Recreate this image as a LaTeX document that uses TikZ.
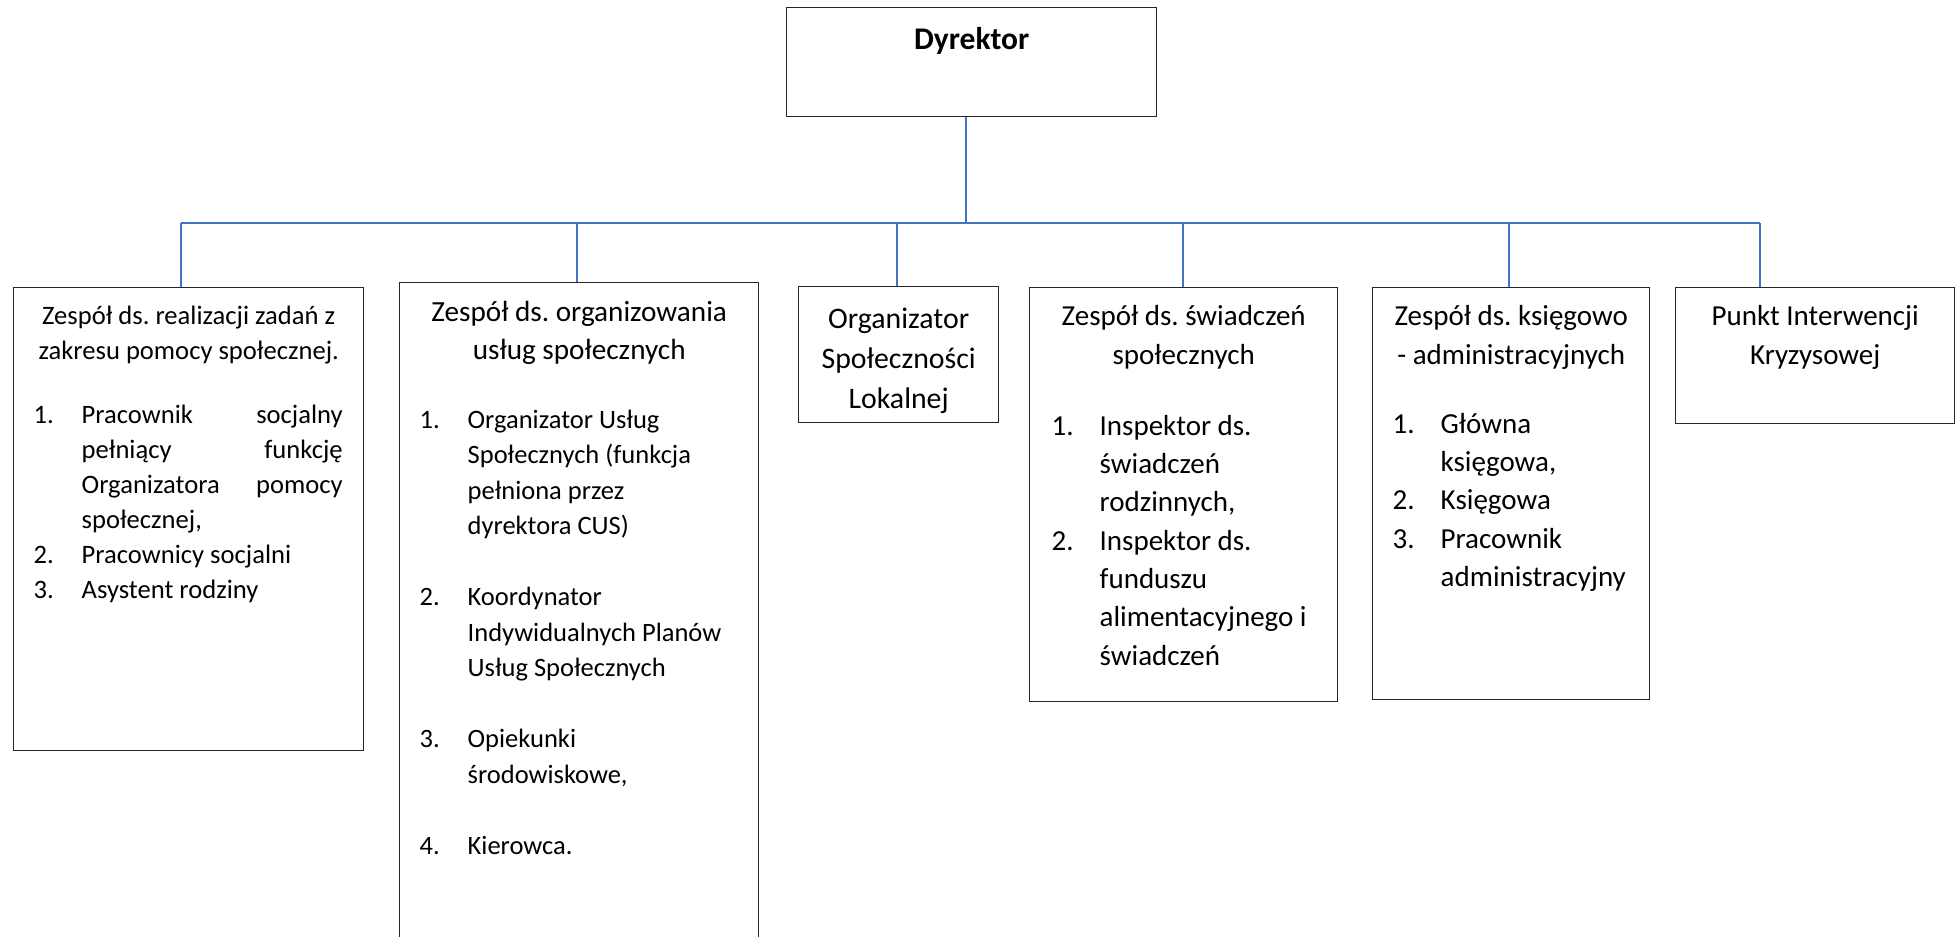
\documentclass[tikz,border=0pt]{standalone}
\usepackage{fontspec}
\setmainfont{Carlito}
\frenchspacing
\definecolor{linkblue}{HTML}{4472C4}
\newcommand{\unitbody}[3]{\parbox[t][#2pt][t]{#1pt}{\parskip=0pt #3}}
\newcommand{\orgitem}[2]{\par\noindent\hangindent=48pt\hangafter=1\makebox[48pt][l]{#1}#2}
\tikzstyle{orgbox} = [rectangle, draw=black!85, line width=1.4pt, inner sep=0pt, anchor=north west]
\tikzstyle{orgline} = [draw=linkblue, line width=1.1pt]

\begin{document}
\begin{tikzpicture}[x=1pt, y=-1pt]
    \useasboundingbox[fill=white] (0,0) rectangle (1957,937);

    \node (dyrektor) [orgbox] at (786,7) {\unitbody{370}{109}{%
        \centering\fontsize{31.5}{38}\selectfont\bfseries\rule{0pt}{42pt}Dyrektor\par}};

    \node (zespol_pomoc) [orgbox] at (13,287) {\unitbody{350}{463}{%
        {\centering\fontsize{26.6}{35}\selectfont\rule{0pt}{37pt}Zespół ds. realizacji zadań z\\ zakresu pomocy społecznej.\par}
        \vspace{29pt}
        {\leftskip=20pt \rightskip=21pt plus 1fil \fontsize{26.6}{35}\selectfont
        \orgitem{1.}{Pracownik\hfill socjalny\\ pełniący\hfill funkcję\\ Organizatora\hfill pomocy\\ społecznej,}
        \orgitem{2.}{Pracownicy socjalni}
        \orgitem{3.}{Asystent rodziny}\par}}};

    \node (zespol_uslugi) [orgbox] at (399,282) {\unitbody{359}{670}{%
        {\centering\fontsize{29.2}{38.5}\selectfont\rule{0pt}{38.5pt}Zespół ds. organizowania\\ usług społecznych\par}
        \vspace{33pt}
        {\leftskip=20pt \rightskip=20pt plus 1fil \fontsize{26.5}{35.5}\selectfont
        \orgitem{1.}{Organizator Usług\\ Społecznych (funkcja\\ pełniona przez\\ dyrektora CUS)}\par
        \vspace{35.5pt}
        \orgitem{2.}{Koordynator\\ Indywidualnych Planów\\ Usług Społecznych}\par
        \vspace{35.5pt}
        \orgitem{3.}{Opiekunki\\ środowiskowe,}\par
        \vspace{35.5pt}
        \orgitem{4.}{Kierowca.}\par}}};

    \node (org_lokal) [orgbox] at (798,286) {\unitbody{200}{136}{%
        \centering\fontsize{29.8}{40}\selectfont\rule{0pt}{42pt}Organizator\\ Społeczności\\ Lokalnej\par}};

    \node (zespol_swiad) [orgbox] at (1029,287) {\unitbody{308}{414}{%
        {\centering\fontsize{29}{38.3}\selectfont\rule{0pt}{38pt}Zespół ds. świadczeń\\ społecznych\par}
        \vspace{33pt}
        {\leftskip=22pt \rightskip=20pt plus 1fil \fontsize{29}{38.3}\selectfont
        \orgitem{1.}{Inspektor ds.\\ świadczeń\\ rodzinnych,}
        \orgitem{2.}{Inspektor ds.\\ funduszu\\ alimentacyjnego i\\ świadczeń}\par}}};

    \node (zespol_ksieg) [orgbox] at (1372,287) {\unitbody{277}{412}{%
        {\centering\fontsize{29}{38.3}\selectfont\rule{0pt}{38pt}Zespół ds. księgowo\\ - administracyjnych\par}
        \vspace{31pt}
        {\leftskip=20pt \rightskip=15pt plus 1fil \fontsize{29}{38.3}\selectfont
        \orgitem{1.}{Główna\\ księgowa,}
        \orgitem{2.}{Księgowa}
        \orgitem{3.}{Pracownik\\ administracyjny}\par}}};

    \node (punkt_ik) [orgbox] at (1675,287) {\unitbody{279}{136}{%
        \centering\fontsize{29}{38.3}\selectfont\rule{0pt}{38pt}Punkt Interwencji\\ Kryzysowej\par}};

    % bus line and taps
    \coordinate (bus_top) at (966,223);
    \coordinate (tap_pomoc) at (181,223);
    \coordinate (tap_uslugi) at (577,223);
    \coordinate (tap_lokal) at (897,223);
    \coordinate (tap_swiad) at (1183,223);
    \coordinate (tap_ksieg) at (1509,223);
    \coordinate (tap_punkt) at (1760,223);

    \draw [orgline] (bus_top |- dyrektor.south) -- (bus_top);
    \draw [orgline] (tap_pomoc) -- (tap_punkt);
    \draw [orgline] (tap_pomoc) -- (tap_pomoc |- zespol_pomoc.north);
    \draw [orgline] (tap_uslugi) -- (tap_uslugi |- zespol_uslugi.north);
    \draw [orgline] (tap_lokal) -- (tap_lokal |- org_lokal.north);
    \draw [orgline] (tap_swiad) -- (tap_swiad |- zespol_swiad.north);
    \draw [orgline] (tap_ksieg) -- (tap_ksieg |- zespol_ksieg.north);
    \draw [orgline] (tap_punkt) -- (tap_punkt |- punkt_ik.north);

\end{tikzpicture}
\end{document}
